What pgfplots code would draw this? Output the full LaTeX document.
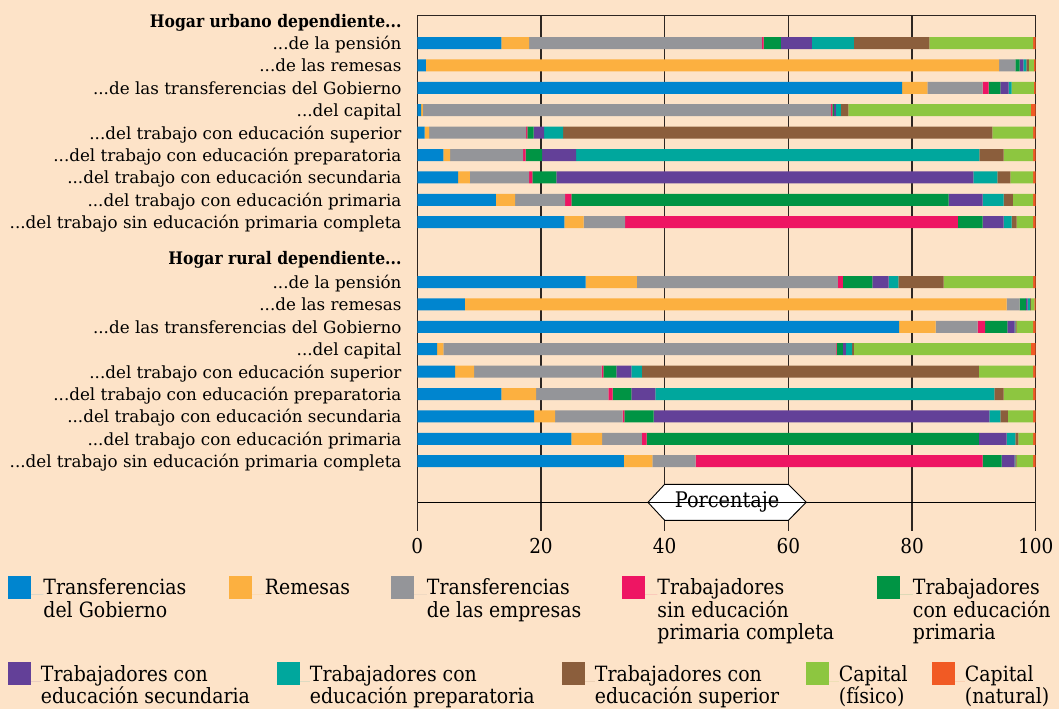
\documentclass[border=0pt]{standalone}
\usepackage{fontspec}
\setmainfont{DejaVu Serif Condensed}[BoldFont={DejaVu Serif Condensed Bold}]
\newfontfamily\labfont{DejaVu Serif}
\usepackage{pgfplots}
\pgfplotsset{compat=1.18}
\usepackage{pgfplotstable}

\definecolor{bgc}{RGB}{253,227,200}
\definecolor{cblue}{RGB}{0,133,207}
\definecolor{corange}{RGB}{252,176,64}
\definecolor{cgray}{RGB}{148,149,153}
\definecolor{cpink}{RGB}{238,21,99}
\definecolor{cgreen}{RGB}{0,148,68}
\definecolor{cpurple}{RGB}{99,64,152}
\definecolor{cteal}{RGB}{0,167,157}
\definecolor{cbrown}{RGB}{139,94,60}
\definecolor{clgreen}{RGB}{141,198,64}
\definecolor{cred}{RGB}{241,90,36}
\definecolor{framec}{RGB}{45,38,34}

\newcommand{\dd}{.\kern0pt.\kern0pt.}
\newcommand{\hd}[1]{{\rmfamily\bfseries\fontsize{17.3}{20}\selectfont #1}}

\pgfplotstableread{
y      blue orange gray pink green purple teal brown lgreen red
-43    13.6 4.5  37.6 0.3  2.8  5.0  6.8  12.2 16.8 0.4
-65.4  1.4  92.7 2.6  0.0  0.7  0.6  0.5  0.4  0.8  0.3
-87.8  78.4 4.1  8.9  1.0  1.9  1.3  0.5  0.0  3.6  0.3
-110.2 0.6  0.3  66.0 0.2  0.3  0.3  0.8  1.2  29.5 0.8
-132.6 1.2  0.7  15.7 0.2  1.0  1.7  3.1  69.4 6.6  0.4
-155   4.2  1.1  11.8 0.4  2.7  5.5  65.2 3.9  4.8  0.4
-177.4 6.6  1.9  9.6  0.5  3.9  67.4 3.9  2.1  3.7  0.4
-199.8 12.7 3.1  8.1  1.0  61.0 5.5  3.4  1.5  3.3  0.4
-222.2 23.8 3.1  6.7  53.8 4.0  3.4  1.3  0.8  2.7  0.4
-282   27.2 8.3  32.5 0.8  4.8  2.6  1.6  7.3  14.5 0.4
-304.4 7.7  87.6 2.1  0.0  1.0  0.3  0.4  0.1  0.6  0.2
-326.8 77.9 5.9  6.8  1.2  3.6  1.2  0.1  0.2  2.7  0.4
-349.2 3.2  1.0  63.5 0.1  1.0  0.5  1.0  0.3  28.6 0.8
-371.6 6.1  3.1  20.6 0.3  2.1  2.4  1.7  54.5 8.8  0.4
-394   13.6 5.6  11.7 0.7  3.0  3.9  54.8 1.5  4.8  0.4
-416.4 18.9 3.4  10.9 0.3  4.7  54.3 1.8  1.2  4.1  0.4
-438.8 24.9 5.0  6.4  0.8  53.7 4.5  1.4  0.5  2.4  0.4
-461.2 33.4 4.6  7.0  46.4 3.1  2.1  0.1  0.2  2.7  0.4
}\data

\pgfplotsset{
  sqlegend/.style={legend image code/.code={%
      \fill[##1] (0pt,-4.15pt) rectangle (23pt,19pt);
      \path (0pt,0pt) -- (#1,0pt);}},
  baseaxis/.style={
    scale only axis, width=618.4pt, height=515pt,
    at={(417.3pt,-530.7pt)}, anchor=south west,
    xmin=0, xmax=100, ymin=-530.7, ymax=-15.7,
    enlargelimits=false, clip=false},
  legrow/.style={
    legend columns=5,
    legend style={draw=none, fill=none, inner sep=0pt, outer sep=0pt,
      column sep=0pt, row sep=0pt,
      font=\fontsize{21}{22.4}\selectfont,
      nodes={inner sep=0pt, outer sep=0pt},
      cells={anchor=base west},
      anchor=north west, at={(axis description cs:-0.6619,#1)}}},
}

\begin{document}
\begin{tikzpicture}
\fill[bgc] (0pt,0pt) rectangle (1059pt,-709pt);
\useasboundingbox (0pt,0pt) rectangle (1059pt,-709pt);

\begin{axis}[baseaxis,
  xbar stacked, bar width=12pt,
  axis line style={draw=none},
  xtick={0,20,40,60,80,100},
  xtick style={draw=none}, ytick style={draw=none},
  xmajorgrids, grid style={framec, line width=1.2pt},
  /pgf/number format/assume math mode=true,
  xticklabel style={font=\fontsize{20.5}{24}\selectfont, inner sep=0pt, anchor=north, yshift=-7.3pt},
  ytick={-21.2,-43,-65.4,-87.8,-110.2,-132.6,-155,-177.4,-199.8,-222.2,-257.8,-282,-304.4,-326.8,-349.2,-371.6,-394,-416.4,-438.8,-461.2},
  yticklabels={{\hd{Hogar urbano dependiente\dd}},
    {\dd de la pensión},{\dd de las remesas},{\dd de las transferencias del Gobierno},
    {\dd del capital},{\dd del trabajo con educación superior},
    {\dd del trabajo con educación preparatoria},{\dd del trabajo con educación secundaria},
    {\dd del trabajo con educación primaria},{\dd del trabajo sin educación primaria completa},
    {\hd{Hogar rural dependiente\dd}},
    {\dd de la pensión},{\dd de las remesas},{\dd de las transferencias del Gobierno},
    {\dd del capital},{\dd del trabajo con educación superior},
    {\dd del trabajo con educación preparatoria},{\dd del trabajo con educación secundaria},
    {\dd del trabajo con educación primaria},{\dd del trabajo sin educación primaria completa}},
  yticklabel style={font=\labfont\fontsize{16.75}{20}\selectfont, anchor=east, inner sep=0pt,
    xshift=-15.6pt, text height=16pt, text depth=3pt},
]
\addplot[fill=cblue, draw=none] table[x=blue, y=y] {\data};
\addplot[fill=corange, draw=none] table[x=orange, y=y] {\data};
\addplot[fill=cgray, draw=none] table[x=gray, y=y] {\data};
\addplot[fill=cpink, draw=none] table[x=pink, y=y] {\data};
\addplot[fill=cgreen, draw=none] table[x=green, y=y] {\data};
\addplot[fill=cpurple, draw=none] table[x=purple, y=y] {\data};
\addplot[fill=cteal, draw=none] table[x=teal, y=y] {\data};
\addplot[fill=cbrown, draw=none] table[x=brown, y=y] {\data};
\addplot[fill=clgreen, draw=none] table[x=lgreen, y=y] {\data};
\addplot[fill=cred, draw=none] table[x=red, y=y] {\data};

\draw[framec, line width=1.3pt] (axis cs:0,-530.7) -- (axis cs:0,-15.7) -- (axis cs:100,-15.7) -- (axis cs:100,-530.7);
\draw[black, line width=0.9pt] (axis cs:0,-502.3) -- (axis cs:100,-502.3);
\filldraw[fill=white, draw=black, line width=0.9pt]
  (axis cs:37.3,-502.3) -- (axis cs:40,-484.3) -- (axis cs:60,-484.3) -- (axis cs:62.9,-502.3)
  -- (axis cs:60,-520.3) -- (axis cs:40,-520.3) -- cycle;
\end{axis}
\node[font=\fontsize{21.5}{24}\selectfont, inner sep=0pt, text=black] at (727.1pt,-502.3pt) {Porcentaje};

\begin{axis}[baseaxis, hide axis, legrow=-0.08738]
\addlegendimage{fill=cblue, draw=none, sqlegend=35.5pt}
\addlegendentry{\parbox[t]{186pt}{\raggedright Transferencias\\del Gobierno}}
\addlegendimage{fill=corange, draw=none, sqlegend=35.5pt}
\addlegendentry{\parbox[t]{126.5pt}{\raggedright Remesas}}
\addlegendimage{fill=cgray, draw=none, sqlegend=35.5pt}
\addlegendentry{\parbox[t]{195pt}{\raggedright Transferencias\\de las empresas}}
\addlegendimage{fill=cpink, draw=none, sqlegend=35.5pt}
\addlegendentry{\parbox[t]{220pt}{\raggedright Trabajadores\\sin educación\\primaria completa}}
\addlegendimage{fill=cgreen, draw=none, sqlegend=35.5pt}
\addlegendentry{\parbox[t]{140pt}{\raggedright Trabajadores\\con educación\\primaria}}
\end{axis}

\begin{axis}[baseaxis, hide axis, legrow=-0.25495]
\addlegendimage{fill=cpurple, draw=none, sqlegend=33pt}
\addlegendentry{\parbox[t]{236pt}{\raggedright Trabajadores con\\educación secundaria}}
\addlegendimage{fill=cteal, draw=none, sqlegend=33pt}
\addlegendentry{\parbox[t]{252pt}{\raggedright Trabajadores con\\educación preparatoria}}
\addlegendimage{fill=cbrown, draw=none, sqlegend=33pt}
\addlegendentry{\parbox[t]{211pt}{\raggedright Trabajadores con\\educación superior}}
\addlegendimage{fill=clgreen, draw=none, sqlegend=33pt}
\addlegendentry{\parbox[t]{93pt}{\raggedright Capital\\(físico)}}
\addlegendimage{fill=cred, draw=none, sqlegend=33pt}
\addlegendentry{\parbox[t]{90pt}{\raggedright Capital\\(natural)}}
\end{axis}
\end{tikzpicture}
\end{document}
